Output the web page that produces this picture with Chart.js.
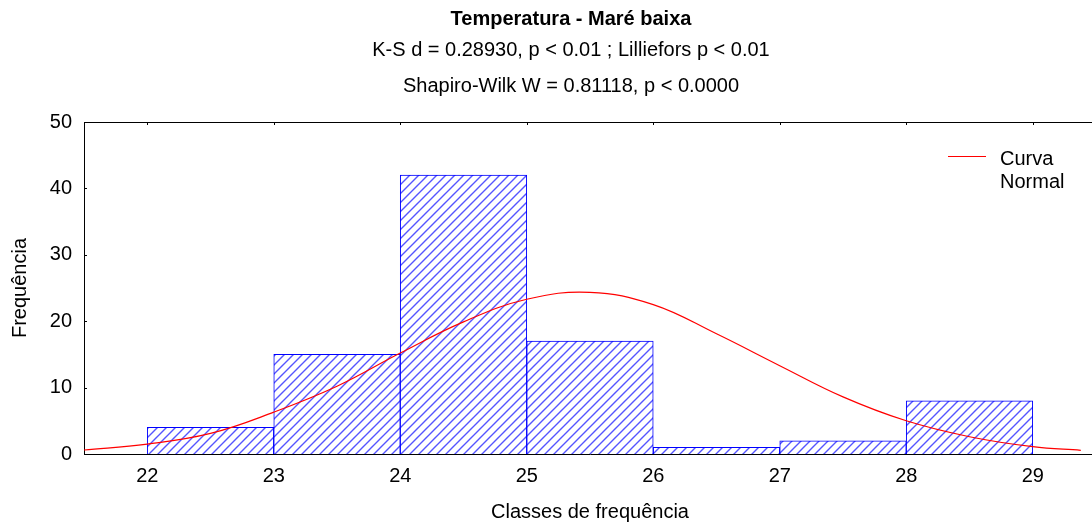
<!DOCTYPE html>
<html>
<head>
<meta charset="utf-8">
<script src="https://cdn.jsdelivr.net/npm/chart.js@4/dist/chart.umd.min.js"></script>
<style>
  html, body { margin: 0; padding: 0; background: #fff; overflow: hidden; }
  #wrap { width: 1092px; height: 528px; overflow: hidden; }
</style>
</head>
<body>
<div id="wrap"><canvas id="histChart" width="1142" height="528"></canvas></div>
<script>
// classes (lower bound, width 1) and observed counts
const classStarts = [22, 23, 24, 25, 26, 27, 28];
const counts = [4, 15, 42, 17, 1, 2, 8];

// fitted normal curve, half-degree steps
const curveX = [21.5, 22, 22.5, 23, 23.5, 24, 24.5, 25, 25.5, 26, 26.5, 27, 27.5, 28, 28.5, 29, 29.38];
const curveY = [0.6, 1.5, 3.1, 6.3, 10.2, 15.2, 19.9, 23.3, 24.35, 22.5, 18.1, 13.3, 8.6, 5.0, 2.6, 1.1, 0.55];

const xTicks = [22, 23, 24, 25, 26, 27, 28, 29];
const yTicks = [0, 10, 20, 30, 40, 50];

const FONT = "Arial, 'Liberation Sans', sans-serif";

function hatchPattern(ctx) {
    const size = 9;
    const c = document.createElement("canvas");
    c.width = size; c.height = size;
    const g = c.getContext("2d");
    g.fillStyle = "#ffffff";
    g.fillRect(0, 0, size, size);
    g.strokeStyle = "#5555ff";
    g.lineWidth = 1.4;
    g.beginPath();
    g.moveTo(0, size); g.lineTo(size, 0);
    g.moveTo(-2, 2); g.lineTo(2, -2);
    g.moveTo(size - 2, size + 2); g.lineTo(size + 2, size - 2);
    g.stroke();
    return ctx.createPattern(c, "repeat");
}

// top border with inward ticks, inward ticks on the left axis
const framePlugin = {
    id: "frame",
    afterDraw(chart) {
        const { ctx, chartArea: a, scales } = chart;
        ctx.save();
        ctx.strokeStyle = "#000";
        ctx.lineWidth = 1;
        ctx.beginPath();
        ctx.moveTo(a.left, a.top + 0.5);
        ctx.lineTo(a.right, a.top + 0.5);
        xTicks.forEach(v => {
            const px = Math.round(scales.x.getPixelForValue(v)) + 0.5;
            ctx.moveTo(px, a.top);
            ctx.lineTo(px, a.top + 3);
        });
        yTicks.forEach(v => {
            const py = Math.round(scales.y.getPixelForValue(v)) + 0.5;
            ctx.moveTo(a.left, py);
            ctx.lineTo(a.left + 3, py);
        });
        ctx.stroke();
        ctx.restore();
    }
};

const legendPlugin = {
    id: "curveLegend",
    afterDraw(chart) {
        const { ctx, chartArea: a } = chart;
        ctx.save();
        ctx.strokeStyle = "#ff0000";
        ctx.lineWidth = 1;
        ctx.beginPath();
        ctx.moveTo(a.right - 148, a.top + 34.5);
        ctx.lineTo(a.right - 110, a.top + 34.5);
        ctx.stroke();
        ctx.fillStyle = "#000";
        ctx.font = "20px " + FONT;
        ctx.textBaseline = "middle";
        ctx.textAlign = "left";
        ctx.fillText("Curva", a.right - 96, a.top + 37);
        ctx.fillText("Normal", a.right - 96, a.top + 60);
        ctx.restore();
    }
};

document.addEventListener("DOMContentLoaded", function () {
    const canvas = document.getElementById("histChart");
    const ctx = canvas.getContext("2d");

    new Chart(ctx, {
        type: "bar",
        data: {
            datasets: [{
                type: "line",
                label: "Curva Normal",
                data: curveX.map((x, i) => ({ x: x, y: curveY[i] })),
                borderColor: "#ff0000",
                borderWidth: 1.2,
                pointRadius: 0,
                tension: 0.4,
                fill: false,
                order: 0
            }, {
                label: "Frequência",
                data: classStarts.map((s, i) => ({ x: s + 0.5, y: counts[i] })),
                backgroundColor: hatchPattern(ctx),
                borderColor: "#0000ff",
                borderWidth: 1,
                barPercentage: 1,
                categoryPercentage: 1,
                order: 1
            }]
        },
        options: {
            responsive: false,
            animation: false,
            events: [],
            layout: { padding: 0 },
            plugins: {
                legend: { display: false },
                tooltip: { enabled: false },
                title: {
                    display: true,
                    text: "Temperatura - Maré baixa",
                    color: "#000",
                    font: { family: FONT, size: 20, weight: "bold", lineHeight: 1.2 },
                    padding: { top: 7, bottom: 0 }
                },
                subtitle: {
                    display: true,
                    text: [
                        "K-S d = 0.28930, p < 0.01 ; Lilliefors p < 0.01",
                        "Shapiro-Wilk W = 0.81118, p < 0.0000"
                    ],
                    color: "#000",
                    font: { family: FONT, size: 20, lineHeight: 1.8 },
                    padding: { top: 1, bottom: 18 }
                }
            },
            scales: {
                x: {
                    type: "linear",
                    min: 21.5,
                    max: 29.5,
                    offset: false,
                    afterBuildTicks: s => { s.ticks = xTicks.map(v => ({ value: v })); },
                    afterFit: s => { s.height = 74; },
                    grid: { display: false, drawTicks: false },
                    border: { display: true, color: "#000", width: 1 },
                    ticks: {
                        color: "#000",
                        padding: 10,
                        maxRotation: 0,
                        font: { family: FONT, size: 20 }
                    },
                    title: {
                        display: true,
                        text: "Classes de frequência",
                        color: "#000",
                        font: { family: FONT, size: 20, lineHeight: 1.2 },
                        padding: { top: 10, bottom: 4 }
                    }
                },
                y: {
                    min: 0,
                    max: 50,
                    afterBuildTicks: s => { s.ticks = yTicks.map(v => ({ value: v })); },
                    afterFit: s => { s.width = 84; },
                    grid: { display: false, drawTicks: false },
                    border: { display: true, color: "#000", width: 1 },
                    ticks: {
                        color: "#000",
                        padding: 12,
                        font: { family: FONT, size: 20 }
                    },
                    title: {
                        display: true,
                        text: "Frequência",
                        color: "#000",
                        font: { family: FONT, size: 20, lineHeight: 1.2 },
                        padding: { top: 8, bottom: 2 }
                    }
                },
                // empty strip on the right that runs past the visible edge
                yRight: {
                    position: "right",
                    display: true,
                    afterFit: s => { s.width = 46; },
                    grid: { display: false, drawTicks: false },
                    border: { display: false },
                    ticks: { display: false }
                }
            }
        },
        plugins: [framePlugin, legendPlugin]
    });
});
</script>
</body>
</html>
